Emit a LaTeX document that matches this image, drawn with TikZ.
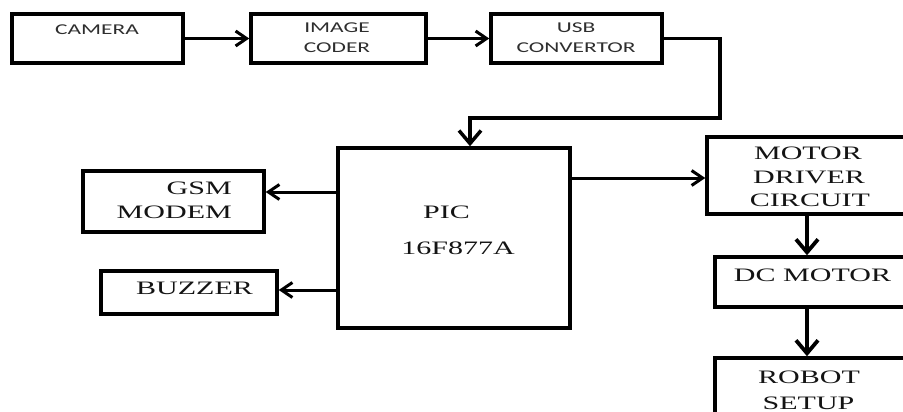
\documentclass[tikz,border=0pt]{standalone}
\usepackage{fontspec}
\setmainfont{Liberation Serif}
\newfontfamily\sanf[FakeStretch=1.56]{Carlito}
\newfontfamily\serf[FakeStretch=1.58]{Liberation Serif}
\usetikzlibrary{arrows.meta}
\begin{document}
\begin{tikzpicture}[x=1pt,y=-1pt,
  box/.style={draw, line width=3.5pt, inner sep=0pt},
  lsans/.style={font=\sanf\fontsize{15}{18}\selectfont, text=black!82, inner sep=0pt},
  lserif/.style={font=\serf\fontsize{19}{22}\selectfont, text=black!92, inner sep=0pt},
  harr/.style={line width=3pt, -{Straight Barb[length=11pt,width=15pt]}},
  varr/.style={line width=3.8pt, -{Straight Barb[length=13pt,width=22pt]}}]
\useasboundingbox (0,0) rectangle (903,412);
\clip (0,0) rectangle (903,412);
% boxes
\node[box, minimum width=171pt, minimum height=49pt] (cam) at (97.5,38.5) {};
\node[box, minimum width=175pt, minimum height=49pt] (coder) at (338.5,38.5) {};
\node[box, minimum width=171pt, minimum height=49pt] (usb) at (576.5,38.5) {};
\node[box, minimum width=232pt, minimum height=180pt] (pic) at (454,238) {};
\node[box, minimum width=181pt, minimum height=61pt] (gsm) at (173.5,201.5) {};
\node[box, minimum width=176pt, minimum height=43pt] (buz) at (189,292.5) {};
\node[box, minimum width=223pt, minimum height=77pt] (mdc) at (818.5,175.5) {};
\node[box, minimum width=215pt, minimum height=50pt] (dcm) at (822.5,282) {};
\node[box, minimum width=215pt, minimum height=82pt] (rob) at (822.5,399) {};
% texts
\node[lsans] (tcam) at (97,30) {CAMERA};
\node[lsans] (tcod1) at (337,28) {IMAGE};
\node[lsans] (tcod2) at (337,48) {CODER};
\node[lsans] (tusb1) at (576,28) {USB};
\node[lsans] (tusb2) at (576,48) {CONVERTOR};
\node[lserif, anchor=east] (tgsm1) at (232,188) {GSM};
\node[lserif, anchor=east] (tgsm2) at (232,212) {MODEM};
\node[lserif] (tbuz) at (194.5,288) {BUZZER};
\node[lserif] (tpic1) at (446.5,212) {PIC};
\node[lserif] (tpic2) at (458,248) {16F877A};
\node[lserif] (tmd1) at (808,153) {MOTOR};
\node[lserif] (tmd2) at (809,177) {DRIVER};
\node[lserif] (tmd3) at (810,200) {CIRCUIT};
\node[lserif] (tdc) at (812.5,275) {DC MOTOR};
\node[lserif] (trob1) at (809,377) {ROBOT};
\node[lserif] (trob2) at (808.5,403) {SETUP};
% connector points
\coordinate (bend) at (720,118);
\coordinate (picin) at ([xshift=16pt]pic.north);
\coordinate (gsmin) at ([yshift=9.5pt]gsm.east);
\coordinate (buzin) at ([yshift=2.5pt]buz.east);
\coordinate (mdcin) at ([yshift=-2.5pt]mdc.west);
\coordinate (mdcout) at ([xshift=-11.5pt]mdc.south);
\coordinate (dcmout) at ([xshift=-15.5pt]dcm.south);
% connectors
\draw[harr] (cam.east) -- (coder.west);
\draw[harr] (coder.east) -- (usb.west);
\draw[varr, line width=3.5pt] (usb.east) -| (bend) -| (picin);
\draw[harr] (pic.west |- gsmin) -- (gsmin);
\draw[harr] (pic.west |- buzin) -- (buzin);
\draw[harr] (pic.east |- mdcin) -- (mdcin);
\draw[varr] (mdcout) -- (mdcout |- dcm.north);
\draw[varr] (dcmout) -- (dcmout |- rob.north);
\end{tikzpicture}
\end{document}
